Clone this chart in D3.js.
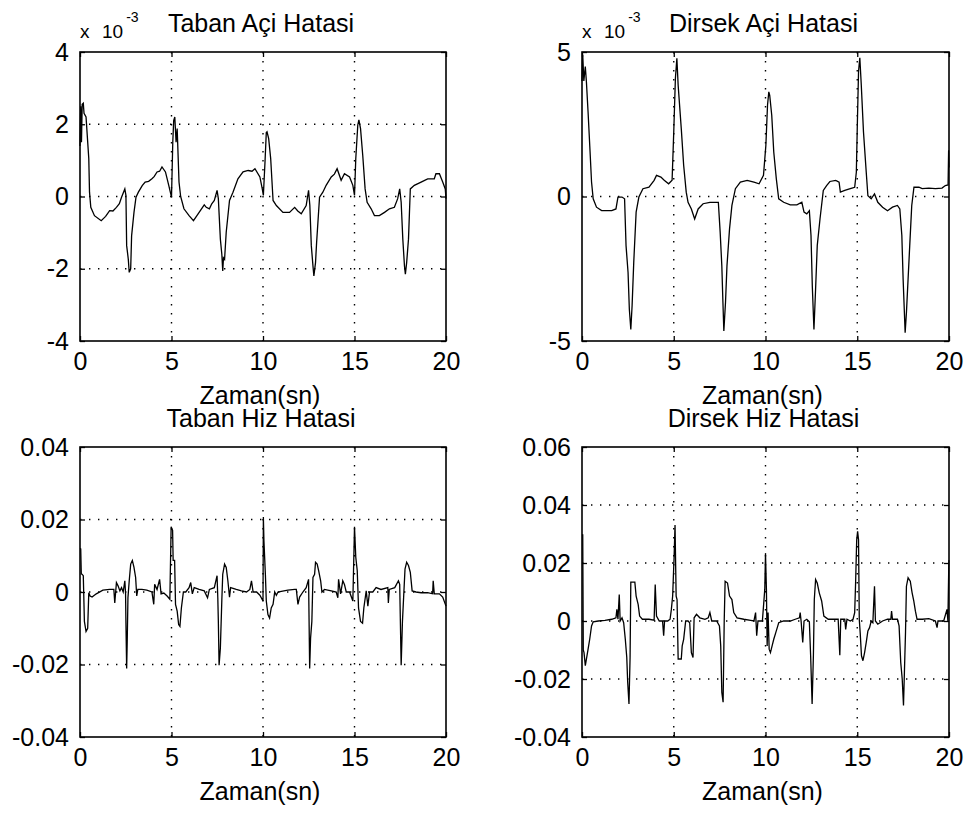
<!DOCTYPE html>
<html>
<head>
<meta charset="utf-8">
<script src="https://cdn.jsdelivr.net/npm/d3@7"></script>
<style>
  body { margin: 0; background: #fff; }
  svg { display: block; font-family: "Liberation Sans", Arial, sans-serif; }
</style>
</head>
<body>
<svg width="969" height="816"></svg>
<script>
// tick values
const timeTicks = [0, 5, 10, 15, 20];
const tabanAciTicks = [-4, -2, 0, 2, 4];          // x 10^-3
const dirsekAciTicks = [-5, 0, 5];                // x 10^-3
const tabanHizTicks = [-0.04, -0.02, 0, 0.02, 0.04];
const dirsekHizTicks = [-0.04, -0.02, 0, 0.02, 0.04, 0.06];

// [time (sn), error]; angle errors in units of 10^-3
const tabanAci = [[0,1.4],[0.04,2.5],[0.08,1.5],[0.12,2.55],[0.18,2.58],[0.22,2.3],[0.33,2.2],[0.48,1.05],[0.52,0.12],[0.59,-0.3],[0.79,-0.53],[1.16,-0.67],[1.4,-0.55],[1.62,-0.39],[1.8,-0.4],[1.99,-0.3],[2.15,-0.2],[2.27,-0.02],[2.45,0.21],[2.51,0.03],[2.55,-1.36],[2.64,-1.74],[2.69,-2.1],[2.77,-2.0],[2.82,-1.09],[2.95,-0.44],[3.06,-0.02],[3.19,0.12],[3.4,0.3],[3.56,0.4],[3.75,0.42],[3.93,0.49],[4.05,0.55],[4.21,0.68],[4.35,0.7],[4.48,0.82],[4.67,0.68],[4.85,0.31],[5.0,-0.02],[5.07,1.51],[5.12,2.1],[5.18,2.2],[5.25,1.5],[5.31,1.88],[5.41,0.4],[5.5,0],[5.68,-0.34],[5.96,-0.53],[6.2,-0.67],[6.51,-0.44],[6.79,-0.23],[6.9,-0.3],[7.07,-0.34],[7.2,-0.2],[7.34,-0.11],[7.49,0.17],[7.56,-0.06],[7.67,-1.18],[7.75,-1.6],[7.8,-2.06],[7.84,-1.7],[7.9,-1.74],[7.99,-0.99],[8.17,-0.11],[8.36,0.12],[8.63,0.49],[8.91,0.68],[9.19,0.72],[9.4,0.7],[9.56,0.77],[9.83,0.54],[9.96,0.21],[10.02,0.03],[10.11,0.96],[10.18,1.77],[10.22,1.79],[10.31,1.6],[10.42,1.05],[10.55,-0.11],[10.73,-0.25],[11.09,-0.44],[11.45,-0.44],[11.73,-0.3],[11.9,-0.4],[12.09,-0.48],[12.36,-0.25],[12.49,0.17],[12.56,-0.25],[12.64,-1.36],[12.73,-1.92],[12.78,-2.2],[12.87,-1.83],[12.93,-1.27],[13.09,-0.02],[13.27,0.12],[13.45,0.31],[13.73,0.54],[13.9,0.62],[14.05,0.77],[14.27,0.45],[14.45,0.63],[14.73,0.54],[14.91,0.31],[15.0,0.03],[15.07,1.05],[15.18,1.98],[15.24,2.12],[15.33,1.88],[15.45,1.14],[15.58,0.21],[15.69,-0.16],[15.91,-0.34],[16.09,-0.53],[16.36,-0.53],[16.64,-0.44],[16.91,-0.34],[17.18,-0.3],[17.36,-0.06],[17.47,0.21],[17.55,-0.16],[17.64,-1.18],[17.73,-1.92],[17.78,-2.15],[17.85,-1.83],[17.95,-1.18],[18.05,0.21],[18.27,0.31],[18.64,0.4],[19.0,0.49],[19.36,0.49],[19.45,0.63],[19.64,0.63],[19.82,0.4],[19.96,0.21],[20,-0.06]];

const dirsekAci = [[0,4.0],[0.04,4.9],[0.1,4.0],[0.18,4.5],[0.24,3.97],[0.33,2.93],[0.44,1.54],[0.52,0.5],[0.61,-0.08],[0.79,-0.37],[1.07,-0.49],[1.62,-0.49],[1.85,-0.43],[1.96,-0.02],[2.18,-0.02],[2.32,-0.08],[2.4,-1.7],[2.51,-2.63],[2.58,-3.9],[2.66,-4.6],[2.73,-3.78],[2.82,-2.28],[2.95,-0.54],[3.1,-0.02],[3.32,0.27],[3.65,0.32],[3.93,0.56],[4.06,0.73],[4.3,0.67],[4.48,0.56],[4.72,0.44],[4.91,0.56],[5.0,2.23],[5.09,4.09],[5.17,4.78],[5.24,3.85],[5.41,2.35],[5.54,1.08],[5.68,0.15],[5.78,-0.2],[5.96,-0.43],[6.14,-0.78],[6.33,-0.43],[6.6,-0.25],[6.97,-0.2],[7.43,-0.2],[7.53,-1.24],[7.62,-2.4],[7.68,-3.67],[7.73,-4.65],[7.82,-3.67],[7.9,-2.4],[8.04,-1.12],[8.17,-0.31],[8.36,0.27],[8.63,0.5],[9.0,0.56],[9.37,0.5],[9.65,0.44],[9.89,0.73],[10.02,1.77],[10.11,3.16],[10.18,3.62],[10.23,3.5],[10.34,2.81],[10.45,1.54],[10.59,0.61],[10.72,-0.08],[10.99,-0.2],[11.35,-0.29],[11.71,-0.29],[11.98,-0.2],[12.1,-0.54],[12.25,-0.6],[12.39,-0.49],[12.48,-1.35],[12.55,-3.09],[12.64,-4.6],[12.73,-3.2],[12.82,-1.7],[12.97,-0.78],[13.15,0.21],[13.33,0.38],[13.51,0.52],[13.83,0.56],[14.01,0.5],[14.08,0.15],[14.32,0.21],[14.62,0.27],[14.86,0.32],[14.95,0.84],[15.0,2.35],[15.07,4.32],[15.14,4.8],[15.22,3.85],[15.34,2.23],[15.49,0.84],[15.58,0.03],[15.76,-0.08],[15.94,0.09],[16.12,-0.2],[16.38,-0.37],[16.65,-0.49],[16.92,-0.37],[17.19,-0.31],[17.32,-0.43],[17.43,-1.35],[17.5,-2.86],[17.61,-4.71],[17.68,-4.02],[17.77,-2.86],[17.86,-1.7],[17.97,-0.31],[18.09,0.32],[18.36,0.32],[18.54,0.27],[18.9,0.29],[19.26,0.27],[19.62,0.29],[19.8,0.38],[19.95,0.4],[19.98,1.6],[20,1.0]];

const tabanHiz = [[0,0.012],[0.04,0.0119],[0.07,0.005],[0.11,0.0049],[0.18,0.0045],[0.24,-0.0081],[0.33,-0.0109],[0.42,-0.01],[0.48,-0.0002],[0.55,-0.0011],[0.66,-0.0014],[0.89,-0.0005],[1.25,0.0005],[1.62,0.0007],[1.85,0.0007],[1.9,-0.003],[1.96,0.0007],[1.99,0.0026],[2.08,0.0017],[2.18,0.0003],[2.27,0.0012],[2.36,0],[2.45,0.0031],[2.49,-0.0005],[2.51,-0.0086],[2.55,-0.0211],[2.58,-0.0137],[2.62,-0.0016],[2.69,0.0031],[2.77,0.0077],[2.86,0.0087],[2.95,0.0068],[3.04,0.004],[3.1,-0.0011],[3.16,0.0007],[3.38,0.0007],[3.65,0.0005],[3.93,0],[4.03,-0.0034],[4.08,0.0021],[4.21,0.0007],[4.35,0.0035],[4.43,-0.0005],[4.58,-0.0003],[4.76,-0.0011],[4.91,-0.002],[4.98,0.018],[5.06,0.017],[5.09,0.0087],[5.17,0.0087],[5.22,-0.0034],[5.31,-0.0053],[5.39,-0.009],[5.46,-0.0095],[5.54,-0.0044],[5.65,0],[5.78,0],[5.96,0.0012],[6.05,0.0026],[6.14,-0.0005],[6.24,0.0012],[6.51,0.0007],[6.79,0.0003],[6.97,-0.0016],[7.07,0.0007],[7.34,0.0012],[7.49,0.0045],[7.53,-0.0016],[7.56,-0.0081],[7.6,-0.0202],[7.67,-0.0155],[7.75,-0.0023],[7.8,0.0049],[7.9,0.0077],[7.99,0.0068],[8.08,0.0031],[8.17,-0.0014],[8.23,0.0012],[8.54,0.0007],[8.82,0.0003],[9.1,0],[9.28,0.0007],[9.37,0.0031],[9.46,0],[9.65,0],[9.83,-0.0009],[10.0,-0.0025],[10.02,0.0207],[10.05,0.0142],[10.13,0.0049],[10.18,-0.0025],[10.27,-0.0062],[10.36,-0.0072],[10.45,-0.0044],[10.55,-0.0034],[10.64,0],[10.73,-0.0009],[10.82,0],[11.0,0.0002],[11.36,0.0005],[11.73,0.0007],[11.82,0.0007],[11.91,-0.0034],[12.0,-0.0014],[12.18,0],[12.36,0.0012],[12.49,0.0035],[12.55,-0.0211],[12.6,-0.0127],[12.67,-0.0081],[12.73,0.004],[12.82,0.0049],[12.87,0.0082],[12.96,0.0077],[13.04,0.0059],[13.15,0.0031],[13.22,0],[13.36,0.0007],[13.73,0.0003],[14.0,0],[14.09,-0.0016],[14.13,0.0035],[14.24,-0.0005],[14.36,0.0031],[14.45,0.0021],[14.55,0],[14.73,0],[14.91,-0.0025],[15.0,0.018],[15.07,0.0096],[15.15,0.0059],[15.22,-0.0044],[15.33,-0.0081],[15.44,-0.0086],[15.51,-0.0044],[15.64,0.0003],[15.73,-0.0039],[15.82,0],[16.0,0],[16.18,0.0012],[16.45,0.0007],[16.82,0.0012],[16.85,-0.003],[16.9,0.0007],[17.2,0.0012],[17.4,0.0031],[17.47,0.0021],[17.55,-0.0202],[17.62,-0.0081],[17.69,-0.0009],[17.76,0.0063],[17.85,0.0082],[17.95,0.0073],[18.05,0.0054],[18.15,0.0003],[18.36,0],[18.64,-0.0002],[19.0,-0.0002],[19.27,-0.0005],[19.3,0.0031],[19.36,-0.0005],[19.64,-0.0005],[19.82,-0.0014],[20.0,-0.0039]];

const dirsekHiz = [[0,0.0297],[0.04,0.0297],[0.07,-0.01],[0.11,-0.0109],[0.18,-0.0154],[0.3,-0.0109],[0.42,-0.0063],[0.52,-0.0017],[0.61,-0.0003],[0.89,0],[1.25,0.0002],[1.62,0.0006],[1.85,0.0011],[1.9,0.004],[1.96,0.0006],[2.03,0.0091],[2.08,0],[2.18,0.0011],[2.27,-0.0006],[2.36,-0.0063],[2.44,-0.0126],[2.49,-0.0211],[2.56,-0.0286],[2.62,-0.0126],[2.66,0.0134],[2.88,0.0134],[2.95,0.0086],[3.06,0.0057],[3.14,0.0017],[3.29,0.0006],[3.65,0.0006],[3.93,0.0003],[3.99,0.0126],[4.06,0.0017],[4.21,0],[4.39,0],[4.45,-0.0051],[4.5,0],[4.67,0],[4.8,0.0006],[4.87,0.004],[4.94,0.0086],[5.02,0.0223],[5.07,0.0331],[5.13,0.0086],[5.18,0.0074],[5.24,-0.0131],[5.41,-0.0131],[5.46,-0.0086],[5.54,-0.0063],[5.65,0],[5.78,0],[5.87,-0.0006],[5.96,-0.0109],[6.05,-0.0126],[6.11,0.0011],[6.24,0.0023],[6.42,0.0011],[6.7,0.0006],[6.88,0.0011],[6.97,0.0029],[7.07,0],[7.34,0],[7.49,-0.0017],[7.56,-0.0086],[7.62,-0.0246],[7.69,-0.028],[7.75,0],[7.8,0.0137],[7.93,0.0131],[8.04,0.0086],[8.17,0.0074],[8.27,0.0029],[8.45,0.0011],[8.82,0.0006],[9.19,0.0002],[9.37,0],[9.46,0.0029],[9.52,-0.0051],[9.59,0],[9.83,0],[9.96,0.0109],[10.0,0.0234],[10.05,0.0109],[10.09,-0.0086],[10.14,0.0029],[10.2,-0.0097],[10.27,-0.0109],[10.36,-0.0086],[10.45,-0.0063],[10.56,-0.004],[10.67,-0.0017],[10.72,-0.0006],[10.99,0],[11.35,0],[11.62,0.0006],[11.85,0.0011],[11.89,0.0029],[11.94,0],[12.03,-0.0074],[12.1,0],[12.25,0.0006],[12.39,-0.0003],[12.46,-0.012],[12.54,-0.0286],[12.61,-0.012],[12.66,0.0074],[12.73,0.0143],[12.82,0.0131],[12.93,0.0097],[13.06,0.0069],[13.18,0.0017],[13.42,0.0006],[13.69,0.0006],[13.96,0.0006],[14.05,-0.0118],[14.1,0.0006],[14.32,0.0006],[14.37,-0.0029],[14.44,0.0006],[14.62,0],[14.77,0.0006],[14.86,0.0029],[14.91,0.0131],[14.97,0.028],[15.02,0.0309],[15.07,0.028],[15.11,0.0006],[15.16,-0.004],[15.23,-0.012],[15.31,-0.0137],[15.4,-0.0109],[15.49,-0.0074],[15.58,-0.0034],[15.67,-0.0023],[15.76,0],[15.85,-0.0006],[15.94,0.012],[15.99,0],[16.12,-0.0011],[16.38,0],[16.65,0.0006],[16.83,0.0006],[16.87,0.0034],[16.92,0.0006],[17.19,0.0006],[17.28,-0.0017],[17.37,-0.0143],[17.45,-0.02],[17.52,-0.0291],[17.57,-0.0177],[17.63,-0.004],[17.68,0.012],[17.77,0.0149],[17.89,0.0137],[17.99,0.0097],[18.08,0.0069],[18.17,0.0034],[18.26,0.0006],[18.54,0.0006],[18.9,0.0008],[19.26,0],[19.35,-0.0023],[19.4,0],[19.71,0],[19.89,0.004],[19.94,0],[19.99,0.02],[20,0.021]];

const svg = d3.select("svg");
const fmtHiz = d => d === 0 ? "0" : d.toFixed(2);

const panels = [
  { title: "Taban Açi Hatasi", data: tabanAci, yTicks: tabanAciTicks, fmt: String, exp: true,
    x0: 80, x1: 446, y0: 52, y1: 341 },
  { title: "Dirsek Açi Hatasi", data: dirsekAci, yTicks: dirsekAciTicks, fmt: String, exp: true,
    x0: 582, x1: 949, y0: 52, y1: 341 },
  { title: "Taban Hiz Hatasi", data: tabanHiz, yTicks: tabanHizTicks, fmt: fmtHiz, exp: false,
    x0: 80, x1: 446, y0: 447, y1: 737 },
  { title: "Dirsek Hiz Hatasi", data: dirsekHiz, yTicks: dirsekHizTicks, fmt: fmtHiz, exp: false,
    x0: 582, x1: 949, y0: 447, y1: 737 }
];

panels.forEach(p => {
  const x = d3.scaleLinear().domain([0, 20]).range([p.x0, p.x1]);
  const y = d3.scaleLinear().domain(d3.extent(p.yTicks)).range([p.y1, p.y0]);
  const g = svg.append("g");

  // dotted grid at interior ticks
  g.selectAll(".vgrid").data(timeTicks.slice(1, -1)).enter().append("line")
    .attr("x1", d => x(d)).attr("x2", d => x(d))
    .attr("y1", p.y0).attr("y2", p.y1)
    .attr("stroke", "#000").attr("stroke-width", 1.4)
    .attr("stroke-dasharray", "1.4,7.6");
  g.selectAll(".hgrid").data(p.yTicks.slice(1, -1)).enter().append("line")
    .attr("x1", p.x0).attr("x2", p.x1)
    .attr("y1", d => y(d)).attr("y2", d => y(d))
    .attr("stroke", "#000").attr("stroke-width", 1.4)
    .attr("stroke-dasharray", "1.4,7.6");

  // trace
  g.append("path")
    .datum(p.data)
    .attr("fill", "none")
    .attr("stroke", "#000")
    .attr("stroke-width", 1.3)
    .attr("stroke-linejoin", "miter")
    .attr("d", d3.line().x(d => x(d[0])).y(d => y(d[1])));

  // axes, ticks pointing inward
  const bottom = g.append("g").attr("transform", `translate(0,${p.y1})`)
    .call(d3.axisBottom(x).tickValues(timeTicks).tickSize(-5).tickPadding(11));
  const top = g.append("g").attr("transform", `translate(0,${p.y0})`)
    .call(d3.axisTop(x).tickValues(timeTicks).tickSize(-5).tickFormat(""));
  const left = g.append("g").attr("transform", `translate(${p.x0},0)`)
    .call(d3.axisLeft(y).tickValues(p.yTicks).tickSize(-5).tickPadding(11).tickFormat(p.fmt));
  const right = g.append("g").attr("transform", `translate(${p.x1},0)`)
    .call(d3.axisRight(y).tickValues(p.yTicks).tickSize(-5).tickFormat(""));
  [bottom, top, left, right].forEach(a => {
    a.select(".domain").remove();
    a.selectAll(".tick line").attr("stroke", "#000").attr("stroke-width", 1.3);
    a.selectAll("text").attr("font-size", 25).attr("fill", "#000")
      .attr("font-family", "'Liberation Sans', Arial, sans-serif");
  });

  // box
  g.append("rect")
    .attr("x", p.x0).attr("y", p.y0)
    .attr("width", p.x1 - p.x0).attr("height", p.y1 - p.y0)
    .attr("fill", "none").attr("stroke", "#000").attr("stroke-width", 1.6);

  // title
  g.append("text")
    .attr("x", (p.x0 + p.x1) / 2 - 2).attr("y", p.y0 - 20)
    .attr("text-anchor", "middle").attr("font-size", 25)
    .text(p.title);

  // x label
  g.append("text")
    .attr("x", (p.x0 + p.x1) / 2 - 3).attr("y", p.y1 + 63)
    .attr("text-anchor", "middle").attr("font-size", 25)
    .text("Zaman(sn)");

  // exponent
  if (p.exp) {
    const e = g.append("text").attr("x", p.x0).attr("y", p.y0 - 14).attr("font-size", 19);
    e.append("tspan").text("x");
    e.append("tspan").attr("x", p.x0 + 22).text("10");
    e.append("tspan").attr("dy", -16).attr("dx", 3).attr("font-size", 14).text("-3");
  }
});
</script>
</body>
</html>
